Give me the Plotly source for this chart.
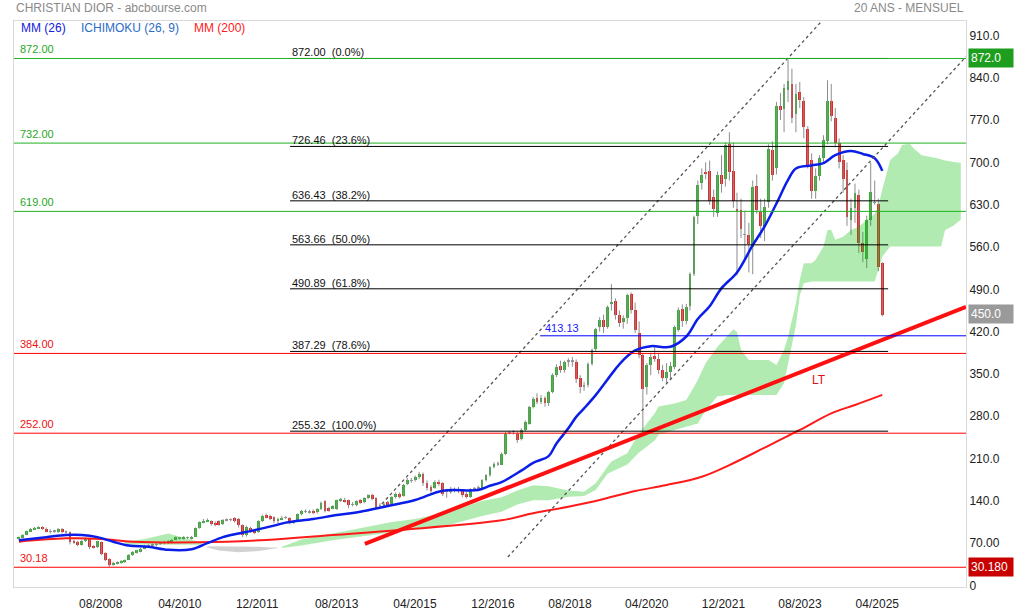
import plotly.graph_objects as go
import pandas as pd

# ---------------- candle data (monthly, 2006-12 .. 2025-04) ----------------
first_month = "2006-12-01"

opens = [
    77,
    79, 84, 90, 93, 95, 96.5, 94, 89, 90, 88, 94, 89,
    88, 73, 72, 67, 73, 77, 65, 64, 72, 53, 44, 35,
    37, 38, 40, 43, 51, 55, 56, 61, 65, 66.5, 67.5, 69.5,
    71, 74, 71, 76, 78, 78, 79.5, 77, 80.8, 95.6, 104, 106,
    106, 104, 106, 101, 108, 108.9, 111, 110, 100, 83, 95, 90,
    88, 107, 116, 115, 113, 106, 110, 112, 112, 104, 106, 118,
    122, 122, 124, 121, 126, 140, 128, 128, 126, 140, 142, 141,
    134, 133, 141, 138, 145, 150, 145, 132, 130, 138, 135, 146,
    152, 148, 168, 174, 174, 180, 185, 170, 163, 162, 172, 170,
    155, 155, 158, 160, 156, 152, 147, 160, 162, 160, 174, 182,
    196, 201, 200, 218, 253, 254, 251, 242, 257, 268, 296, 310,
    303, 310, 302, 320, 349, 363, 357, 372, 371, 369, 343, 330,
    331, 367, 391, 428, 440, 428, 466, 471, 448, 436, 442, 482,
    456, 417, 381, 328, 365, 379, 375, 356, 343, 353, 362, 423,
    458, 437, 462, 515, 611, 666, 684, 686, 642, 616, 679, 673,
    730, 686, 623, 621, 581, 580, 560, 661, 618, 593, 635, 720,
    690, 794, 788, 820, 830, 780, 817, 802, 756, 704, 653, 677,
    707, 735, 802, 773, 732, 704, 687, 605, 624, 646, 567, 540,
    604, 633, 632, 533,
]
closes = [
    79,
    83.7, 90, 93, 95, 96.5, 93, 89, 90, 89.5, 94, 88, 88,
    72, 71, 67, 74, 78, 64, 63, 73, 52, 42, 34, 37,
    38.6, 41, 42, 51, 56, 58, 61, 66, 66, 66.7, 67.8, 69.7,
    71.2, 71, 76, 79.7, 78.2, 80.8, 79, 80.8, 95.6, 105, 106.7, 108.4,
    101, 100.5, 100.5, 108.9, 108.3, 109, 106, 100, 83, 97, 90, 87,
    107, 115, 113, 110, 106, 110, 112, 112.5, 103, 106, 118, 123,
    122.5, 121.5, 121, 126, 137, 124, 124, 131, 141, 142, 139, 133,
    134.5, 140, 137, 145, 149, 143, 130, 133, 135, 133, 146, 152,
    146, 167, 174, 173, 180, 185, 169, 162, 157, 172, 168, 152,
    156, 160, 158.5, 156, 150, 147, 160, 160.5, 161, 174, 182, 196,
    201, 202, 218, 251, 253.5, 254.5, 240, 258, 271, 295, 309, 303,
    310, 302, 320, 349, 361, 357, 370, 371, 372, 342, 328, 331,
    367, 390, 424, 440, 428, 461, 468, 448, 434, 442, 481, 456,
    423, 381, 325, 365, 378, 375, 356, 343, 353, 364, 427, 456,
    437, 460, 515, 610, 663, 679, 681, 637, 623, 679, 665, 729,
    684, 637, 619, 590, 580, 565, 660, 621, 594, 627, 723, 679,
    793, 787, 823, 834, 773, 814, 803, 759, 696, 652, 677, 707,
    737, 802, 776, 732, 701, 672, 609, 624, 649, 567, 551, 604,
    651, 634, 527, 448,
]
highs = [
    81,
    85, 91, 95, 97, 98, 98, 96, 93, 92, 95, 95, 91,
    89, 76, 74, 75, 79, 78, 67, 74, 73, 55, 45, 39,
    40, 42, 43, 52, 57, 59, 62, 67, 68, 69, 70, 72,
    74, 75, 77, 81, 80, 82, 81, 82, 96, 106, 110, 111,
    108, 106, 108, 110, 111, 111, 113, 112, 101, 99, 97, 93,
    108, 117, 119, 117, 114, 112, 115, 115, 113, 108, 119, 125,
    126, 125, 126, 128, 139, 141, 130, 133, 142, 145, 145, 142,
    138, 141, 143, 146, 151, 152, 146, 136, 137, 140, 148, 154,
    154, 168, 178, 178, 182, 188, 187, 174, 166, 174, 175, 171,
    160, 163, 162, 163, 158, 155, 161, 163, 165, 176, 184, 197,
    204, 205, 220, 254, 256, 257, 255, 260, 273, 297, 312, 318,
    315, 313, 322, 351, 366, 372, 372, 376, 378, 374, 348, 337,
    369, 392, 426, 444, 448, 463, 499, 475, 455, 447, 483, 485,
    468, 437, 384, 368, 385, 397, 385, 365, 368, 370, 430, 460,
    465, 466, 518, 612, 670, 690, 700, 703, 655, 685, 712, 733,
    750, 733, 650, 640, 620, 600, 670, 680, 640, 640, 730, 735,
    800, 815, 830, 870, 855, 830, 833, 808, 760, 715, 690, 712,
    745, 836, 830, 790, 740, 712, 700, 640, 665, 655, 585, 612,
    700, 670, 640, 535,
]
lows = [
    76,
    78, 83, 89, 92, 94, 92, 88, 86, 87, 87, 86, 86,
    68, 69, 65, 66, 72, 60, 61, 62, 50, 40, 30.18, 33,
    35, 36, 37, 42, 49, 53, 55, 60, 63, 64, 65, 67,
    68, 69, 70, 75, 76, 76, 77, 76, 80, 94, 103, 105,
    99, 98, 99, 100, 106, 106, 104, 96, 80, 81, 87, 85,
    87, 105, 111, 108, 103, 103, 108, 110, 101, 102, 105, 116,
    120, 119, 118, 119, 125, 121, 122, 126, 125, 138, 137, 128,
    131, 131, 135, 136, 143, 141, 127, 129, 128, 131, 133, 144,
    144, 147, 166, 170, 172, 176, 165, 157, 152, 160, 165, 148,
    145, 152, 154, 153, 146, 144, 145, 157, 158, 158, 172, 180,
    194, 198, 199, 216, 250, 250, 236, 240, 255, 266, 293, 300,
    300, 296, 297, 318, 345, 352, 352, 362, 362, 335, 318, 322,
    328, 364, 388, 420, 418, 425, 455, 440, 428, 425, 433, 450,
    418, 376, 252, 316, 348, 370, 350, 338, 335, 340, 358, 420,
    428, 432, 455, 512, 598, 655, 672, 630, 610, 610, 650, 660,
    670, 625, 513, 575, 540, 518, 515, 615, 575, 570, 625, 670,
    680, 770, 750, 800, 765, 750, 790, 740, 690, 640, 640, 670,
    700, 730, 768, 725, 690, 650, 595, 580, 600, 550, 535, 525,
    595, 630, 520, 445,
]

# ---------------- moving averages ----------------
mm26_dates = ["2006-12", "2007-07", "2007-12", "2008-04", "2008-08", "2008-12", "2009-04",
              "2009-09", "2010-02", "2010-08", "2010-12", "2011-04", "2011-08", "2011-11",
              "2012-05", "2012-08", "2013-03", "2013-09", "2014-03", "2014-10", "2015-05",
              "2015-12", "2016-09", "2016-12", "2017-03", "2017-08", "2017-11", "2018-03",
              "2018-05", "2018-08", "2018-10", "2018-12", "2019-03", "2019-08", "2019-10",
              "2020-01", "2020-05", "2020-10", "2021-02", "2021-05", "2021-08", "2021-11",
              "2022-03", "2022-07", "2022-10", "2023-01", "2023-04", "2023-06", "2023-10",
              "2024-01", "2024-04", "2024-08", "2024-11", "2025-02", "2025-04"]
mm26_values = [75, 80, 83.5, 83.5, 80, 72.5, 66,
               64, 59, 60, 70, 80, 86, 90,
               99, 104, 110, 116.6, 122, 131.6, 141.4,
               156.9, 158, 165, 171, 190, 203, 214,
               235, 260, 279, 293, 315, 358, 373,
               389, 396, 395, 412, 441, 462, 492,
               518, 563, 594, 632, 671, 690, 695,
               699, 712, 719, 714, 707, 686]

mm200_dates = ["2006-12", "2007-12", "2008-09", "2009-05", "2010-10", "2012-03", "2013-08",
               "2015-01", "2017-03", "2017-11", "2018-08", "2019-04", "2020-01", "2020-09",
               "2021-06", "2022-01", "2022-10", "2023-07", "2024-03", "2024-09", "2025-04"]
mm200_values = [72.5, 78, 77, 72.5, 71.4, 75.3, 83.6,
                91.9, 107.8, 119.4, 130.4, 141.4, 156.3, 166.2,
                180, 199.3, 228, 257.3, 284.9, 298.7, 315.4]

# ---------------- ichimoku cloud ----------------
cloud1_dates = ["2009-03", "2009-08", "2010-02", "2010-06", "2010-10", "2010-11"]
cloud1_upper = [72.5, 77, 86, 79, 72, 68]
cloud1_lower = [68, 68, 68, 68, 68, 67.5]

cloud_grey_dates = ["2010-12", "2011-03", "2011-08", "2012-01", "2012-04", "2012-06"]
cloud_grey_upper = [65, 65, 65, 64, 63, 63]
cloud_grey_lower = [63, 58, 55, 57, 60, 62]

cloud2_dates = ["2012-07", "2012-12", "2013-08", "2014-05", "2014-11", "2015-05", "2016-02",
                "2016-10", "2017-03", "2017-07", "2017-11", "2018-03", "2018-08", "2018-12",
                "2019-03", "2019-06", "2019-07", "2019-11", "2020-02", "2020-06", "2020-07",
                "2020-11", "2021-02", "2021-05", "2021-07", "2021-10", "2022-01", "2022-02",
                "2022-03", "2022-04", "2022-06", "2022-11", "2023-01", "2023-03", "2023-04",
                "2023-06", "2023-07", "2023-08", "2023-10", "2023-11", "2024-01", "2024-02",
                "2024-03", "2024-04", "2024-06", "2024-08", "2024-10", "2024-12", "2025-02",
                "2025-03", "2025-04", "2025-06", "2025-08", "2025-09", "2025-11", "2025-12",
                "2026-02", "2026-06", "2026-07", "2026-08", "2026-10", "2026-12"]
cloud2_upper = [64, 76, 86, 97, 105, 110, 123,
                140, 146, 157, 166, 164, 157, 155,
                169, 197, 205, 219, 252, 285, 296,
                301, 307, 340, 368, 395, 417, 424,
                420, 390, 373, 373, 365, 390, 412,
                467, 506, 533, 533, 539, 561, 588,
                588, 572, 577, 588, 594, 605, 615,
                627, 655, 704, 715, 729, 731, 723,
                712, 707, 705, 703, 701, 699]
cloud2_lower = [62, 66, 75, 83, 88, 93, 101,
                115, 122, 134, 141, 141, 147, 148,
                158, 185, 188, 200, 220, 240, 250,
                257, 262, 268, 290, 313, 315, 315,
                315, 315, 315, 315, 315, 335, 368,
                430, 480, 500, 503, 503, 503, 503,
                503, 503, 503, 503, 503, 503, 503,
                522, 544, 561, 561, 561, 561, 561,
                561, 561, 561, 588, 595, 605]

# ---------------- drawn levels / lines ----------------
green_levels = [872.0, 732.0, 619.0]
green_labels = ["872.00", "732.00", "619.00"]
red_levels = [384.0, 252.0, 30.18]
red_labels = ["384.00", "252.00", "30.18"]
fib_levels = [872.00, 726.46, 636.43, 563.66, 490.89, 387.29, 255.32]
fib_pcts = ["0.0%", "23.6%", "38.2%", "50.0%", "61.8%", "78.6%", "100.0%"]
fib_start, fib_end = "2012-09-03", "2025-05-16"
blue_level = 413.13
blue_start = "2017-12-25"

lt_dates = ["2014-04-06", "2027-01-10"]
lt_values = [68.7, 460.9]
chan_up_dates = ["2014-08-16", "2024-06-01"]
chan_up_values = [134.9, 972.7]
chan_low_dates = ["2017-04-19", "2027-01-10"]
chan_low_values = [47.2, 875.0]

x_tick_dates = ["2008-08-27", "2010-05-02", "2011-12-23", "2013-08-30", "2015-04-29",
                "2016-12-24", "2018-08-14", "2020-03-31", "2021-11-16", "2023-07-02",
                "2025-02-21"]
x_tick_labels = ["08/2008", "04/2010", "12/2011", "08/2013", "04/2015", "12/2016",
                 "08/2018", "04/2020", "12/2021", "08/2023", "04/2025"]
y_tick_vals = [0, 70, 140, 210, 280, 350, 420, 490, 560, 630, 700, 770, 840, 910]
y_tick_labels = ["0", "70.00", "140.0", "210.0", "280.0", "350.0", "420.0", "490.0",
                 "560.0", "630.0", "700.0", "770.0", "840.0", "910.0"]

x_range = ["2006-10-24", "2027-01-10"]
y_range = [-2.5, 934.0]

# ---------------- figure ----------------
FONT = "Liberation Sans, Arial, sans-serif"
GREEN_C = "#2db42d"
RED_C = "#ee2222"
dates = pd.date_range(first_month, periods=len(closes), freq="MS")

fig = go.Figure()

# wicks
wx, wy = [], []
for d, h, l in zip(dates, highs, lows):
    wx += [d, d, None]
    wy += [l, h, None]
fig.add_trace(go.Scatter(x=wx, y=wy, mode="lines",
                         line=dict(color="#8c8c8c", width=1), hoverinfo="skip"))

# bodies
body_base = [min(o, c) for o, c in zip(opens, closes)]
body_h = [max(abs(c - o), 0.8) for o, c in zip(opens, closes)]
body_col = [("#9a9a9a" if abs(c - o) <= 1 else (GREEN_C if c > o else RED_C))
            for o, c in zip(opens, closes)]
fig.add_trace(go.Bar(x=dates, y=body_h, base=body_base, width=22 * 86400000,
                     marker=dict(color=body_col, line=dict(width=0)), hoverinfo="skip"))


def to_dt(lst):
    return pd.to_datetime(lst)


def add_cloud(dts, upper, lower, color):
    fig.add_trace(go.Scatter(x=to_dt(dts), y=lower, mode="lines",
                             line=dict(width=0, color=color), hoverinfo="skip"))
    fig.add_trace(go.Scatter(x=to_dt(dts), y=upper, mode="lines", fill="tonexty",
                             fillcolor=color, line=dict(width=0, color=color),
                             hoverinfo="skip"))


add_cloud(cloud1_dates, cloud1_upper, cloud1_lower, "rgba(0,190,0,0.30)")
add_cloud(cloud_grey_dates, cloud_grey_upper, cloud_grey_lower, "rgba(140,140,140,0.40)")
add_cloud(cloud2_dates, cloud2_upper, cloud2_lower, "rgba(0,190,0,0.30)")

# moving averages
fig.add_trace(go.Scatter(x=to_dt(mm200_dates), y=mm200_values, mode="lines",
                         line=dict(color="#ff1a1a", width=2, shape="spline"),
                         hoverinfo="skip"))
fig.add_trace(go.Scatter(x=to_dt(mm26_dates), y=mm26_values, mode="lines",
                         line=dict(color="#0a1ee8", width=2.5, shape="spline"),
                         hoverinfo="skip"))

# channel (dotted) and LT trend line
fig.add_trace(go.Scatter(x=to_dt(chan_up_dates), y=chan_up_values, mode="lines",
                         line=dict(color="#555555", width=1.3, dash="dot"), hoverinfo="skip"))
fig.add_trace(go.Scatter(x=to_dt(chan_low_dates), y=chan_low_values, mode="lines",
                         line=dict(color="#555555", width=1.3, dash="dot"), hoverinfo="skip"))
fig.add_trace(go.Scatter(x=to_dt(lt_dates), y=lt_values, mode="lines",
                         line=dict(color="#ff1010", width=4), hoverinfo="skip"))

shapes = []
annotations = []
for lv, lab in zip(fib_levels, fib_pcts):
    shapes.append(dict(type="line", xref="x", yref="y", x0=fib_start, x1=fib_end,
                       y0=lv, y1=lv, line=dict(color="#000000", width=1), layer="above"))
    annotations.append(dict(x=fib_start, y=lv, xref="x", yref="y", xanchor="left",
                            yanchor="bottom", yshift=-2, showarrow=False,
                            text=f"{lv:.2f}\u00a0\u00a0({lab})",
                            font=dict(family=FONT, size=11, color="#111111")))
for lv, lab in zip(green_levels, green_labels):
    shapes.append(dict(type="line", xref="paper", yref="y", x0=0, x1=1, y0=lv, y1=lv,
                       line=dict(color="#1fb01f", width=1), layer="above"))
    annotations.append(dict(x=0.004, y=lv, xref="paper", yref="y", xanchor="left",
                            yanchor="bottom", yshift=1, showarrow=False, text=lab,
                            font=dict(family=FONT, size=11, color="#1fa81f")))
for lv, lab in zip(red_levels, red_labels):
    shapes.append(dict(type="line", xref="paper", yref="y", x0=0, x1=1, y0=lv, y1=lv,
                       line=dict(color="#ff0000", width=1), layer="above"))
    annotations.append(dict(x=0.004, y=lv, xref="paper", yref="y", xanchor="left",
                            yanchor="bottom", yshift=1, showarrow=False, text=lab,
                            font=dict(family=FONT, size=11, color="#ee1111")))
shapes.append(dict(type="line", xref="x", yref="y", x0=blue_start, x1=x_range[1],
                   y0=blue_level, y1=blue_level, line=dict(color="#0000ff", width=1),
                   layer="above"))
annotations.append(dict(x=blue_start, y=blue_level, xref="x", yref="y", xanchor="left",
                        yanchor="bottom", xshift=3, yshift=0, showarrow=False,
                        text=f"{blue_level:.2f}",
                        font=dict(family=FONT, size=11, color="#1a1aff")))
annotations.append(dict(x="2023-11-27", y=340, xref="x", yref="y", showarrow=False,
                        text="LT", font=dict(family=FONT, size=12, color="#dd1111")))

# header
annotations.append(dict(x=0, y=1.023, xref="paper", yref="paper", xanchor="left",
                        yanchor="middle", showarrow=False,
                        text="CHRISTIAN DIOR - abcbourse.com",
                        font=dict(family=FONT, size=12, color="#8a8a8a")))
annotations.append(dict(x=1, y=1.023, xref="paper", yref="paper", xanchor="right",
                        yanchor="middle", showarrow=False, text="20 ANS - MENSUEL",
                        font=dict(family=FONT, size=12, color="#8a8a8a")))
for txt, px, col in [("MM (26)", 0.005, "#1020e0"), ("ICHIMOKU (26, 9)", 0.0683, "#2a6cc8"),
                     ("MM (200)", 0.187, "#ff2020")]:
    annotations.append(dict(x=px, y=0.9876, xref="paper", yref="paper", xanchor="left",
                            yanchor="middle", showarrow=False, text=txt,
                            font=dict(family=FONT, size=12, color=col)))

# right-side value boxes
for val, txt, bg in [(872.0, "872.0", "#1e9e1e"), (450.0, "450.0", "#9a9a9a"),
                     (30.18, "30.180", "#c80000")]:
    annotations.append(dict(x=1, y=val, xref="paper", yref="y", xanchor="left",
                            yanchor="middle", xshift=2, showarrow=False, text=txt,
                            bgcolor=bg, borderpad=2, width=40, align="left",
                            font=dict(family=FONT, size=12, color="#ffffff")))

fig.update_layout(
    width=1014, height=613,
    margin=dict(l=14, r=48, t=21, b=26, autoexpand=False),
    paper_bgcolor="white", plot_bgcolor="white",
    showlegend=False, bargap=0,
    shapes=shapes, annotations=annotations,
    xaxis=dict(type="date", range=x_range, showgrid=False, zeroline=False,
               automargin=False,
               tickvals=to_dt(x_tick_dates), ticktext=x_tick_labels,
               ticks="outside", ticklen=6, tickcolor="rgba(0,0,0,0)",
               tickfont=dict(family=FONT, size=12, color="#222222"),
               showline=True, linecolor="#d9d9d9", mirror=True),
    yaxis=dict(range=y_range, side="right", showgrid=False, zeroline=False,
               automargin=False,
               tickvals=y_tick_vals, ticktext=y_tick_labels, ticks="",
               tickfont=dict(family=FONT, size=12, color="#222222"),
               showline=True, linecolor="#d9d9d9", mirror=True),
)

fig.write_html("out.html",
               config={"displayModeBar": False},
               post_script="document.body.style.margin='0px';"
                           "document.body.style.overflow='hidden';")
